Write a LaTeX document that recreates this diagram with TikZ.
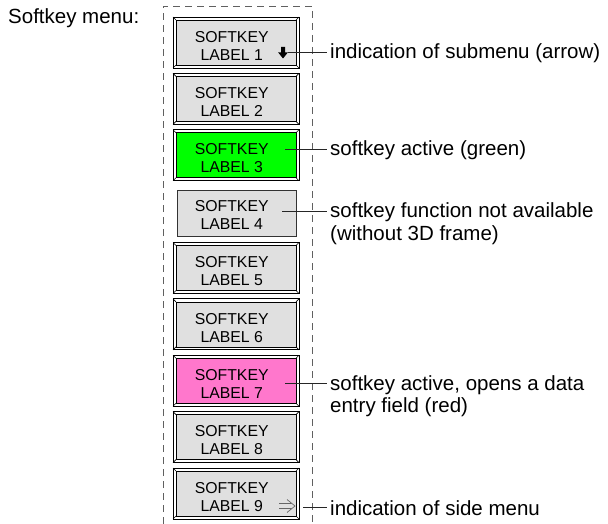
\documentclass[tikz,border=0pt]{standalone}
\usepackage{fontspec}
\setmainfont{Liberation Sans}
\definecolor{btngray}{RGB}{224,224,224}
\definecolor{btngreen}{RGB}{0,255,0}
\definecolor{btnpink}{RGB}{255,119,204}
\definecolor{dashgray}{RGB}{96,96,96}
\newcommand\softkeybtn[4]{% name, top, fill, number
  \fill[white] (173,#2) rectangle (299,{#2+51});
  \draw[line width=0.8pt] (173,#2) rectangle (299,{#2+51});
  \draw[line width=0.7pt, fill=#3] (176,{#2+3}) rectangle (296,{#2+48});
  \draw[line width=0.6pt] (173,#2) -- (176,{#2+3}) (299,#2) -- (296,{#2+3})
        (173,{#2+51}) -- (176,{#2+48}) (299,{#2+51}) -- (296,{#2+48});
  \node[btnbox] (#1) at (173,#2) {};
  \node[btntext] (#1t1) at (231.7,{#2+25.2}) {SOFTKEY};
  \node[btntext] (#1t2) at (231.7,{#2+43.2}) {LABEL #4};
}
\begin{document}
\begin{tikzpicture}[x=1pt,y=-1pt,
  btnbox/.style={anchor=north west, minimum width=126pt, minimum height=51pt, inner sep=0pt},
  btntext/.style={font=\fontsize{15.8}{18}\selectfont, inner sep=0pt, anchor=base},
  lbltext/.style={font=\fontsize{20.5}{23}\selectfont, inner sep=0pt, anchor=base west},
  conn/.style={draw=black!85, line width=0.9pt},
  frame/.style={draw=dashgray, line width=0.9pt, dash pattern=on 7pt off 5pt}]
\useasboundingbox (0,0) rectangle (608,524);
\node[lbltext] (title) at (8,24) {Softkey menu:};
\draw[frame] (163,524) -- (163,6) -- (312,6) -- (312,524);
\softkeybtn{b1}{17}{btngray}{1}
\softkeybtn{b2}{73.375}{btngray}{2}
\softkeybtn{b3}{129.75}{btngreen}{3}
% flat button 4
\node[draw=black!80, line width=0.8pt, fill=btngray, anchor=north west, minimum width=119pt, minimum height=46pt, inner sep=0pt] (b4) at (177,190) {};
\node[btntext] (b4t1) at (231.7,{186.125+25.2}) {SOFTKEY};
\node[btntext] (b4t2) at (231.7,{186.125+43.2}) {LABEL 4};
\softkeybtn{b5}{242.5}{btngray}{5}
\softkeybtn{b6}{298.875}{btngray}{6}
\softkeybtn{b7}{355.25}{btnpink}{7}
\softkeybtn{b8}{411.625}{btngray}{8}
\softkeybtn{b9}{468}{btngray}{9}
% submenu arrow
\fill (281,47) -- (285,47) -- (285,52.5) -- (287.8,52.5) -- (283,58.5) -- (278.2,52.5) -- (281,52.5) -- cycle;
% side menu arrow
\draw[black!60, line width=0.7pt] (279,503.5) -- (291,503.5) (279,508.5) -- (291,508.5)
  (287,499.5) -- (295,506) -- (287,512.5);
% connectors
\coordinate (c1a) at (288,52);  \coordinate (c1b) at (327,52);
\coordinate (c3a) at (285,149); \coordinate (c3b) at (327,149);
\coordinate (c4a) at (282,211); \coordinate (c4b) at (327,211);
\coordinate (c7a) at (285,383); \coordinate (c7b) at (327,383);
\coordinate (c9a) at (303,507); \coordinate (c9b) at (327,507);
\draw[conn] (c1a) -- (c1b);
\draw[conn] (c3a) -- (c3b);
\draw[conn] (c4a) -- (c4b);
\draw[conn] (c7a) -- (c7b);
\draw[conn] (c9a) -- (c9b);
% labels
\node[lbltext] (l1) at (330,59) {indication of submenu (arrow)};
\node[lbltext] (l3) at (330,156) {softkey active (green)};
\node[lbltext] (l4a) at (330,218) {softkey function not available};
\node[lbltext] (l4b) at (330,240.5) {(without 3D frame)};
\node[lbltext] (l7a) at (330,390) {softkey active, opens a data};
\node[lbltext] (l7b) at (330,412.5) {entry field (red)};
\node[lbltext] (l9) at (330,515) {indication of side menu};
\end{tikzpicture}
\end{document}
